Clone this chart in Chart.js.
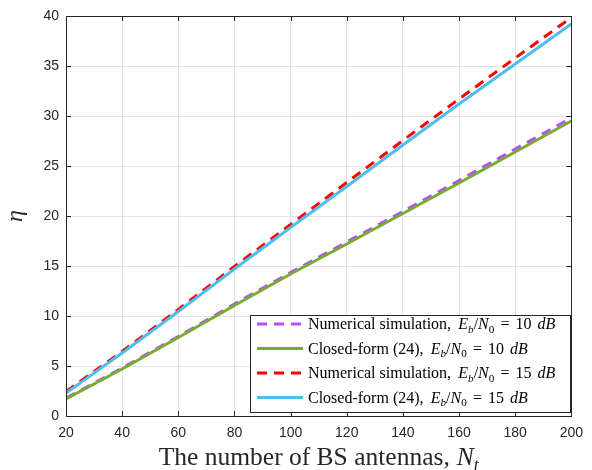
<!DOCTYPE html>
<html><head><meta charset="utf-8">
<script src="https://cdn.jsdelivr.net/npm/chart.js@4.4.1/dist/chart.umd.min.js"></script>
<style>html,body{margin:0;padding:0;background:#fff}</style>
</head><body>
<canvas id="c" width="592" height="470"></canvas>
<script>
// ---- data ----
const antennas  = [20, 40, 60, 80, 100, 120, 140, 160, 180, 200];
const simu10    = [1.8, 4.8, 7.95, 11.2, 14.35, 17.4, 20.45, 23.55, 26.7, 29.8];
const closed10  = [1.7, 4.7, 7.85, 11.05, 14.2, 17.2, 20.25, 23.3, 26.4, 29.5];
const simu15    = [2.45, 6.45, 10.65, 14.95, 19.15, 23.35, 27.55, 31.7, 35.8, 39.85];
const closed15  = [2.3, 6.3, 10.45, 14.7, 18.85, 22.95, 27.1, 31.2, 35.2, 39.2];
const seriesLabels = [
  "Numerical simulation, $E_b/N_0 = 10 dB$",
  "Closed-form (24), $E_b/N_0 = 10 dB$",
  "Numerical simulation, $E_b/N_0 = 15 dB$",
  "Closed-form (24), $E_b/N_0 = 15 dB$"
];
const xTickValues = [20, 40, 60, 80, 100, 120, 140, 160, 180, 200];
const yTickValues = [0, 5, 10, 15, 20, 25, 30, 35, 40];
const xTitle = "The number of BS antennas, $N_t$";
const yTitle = "$η$";

// ---- styling ----
const colors = ['#B84DFF', '#77AC30', '#FF0000', '#4DBEEE'];
const dashes = [[10, 7], [], [10, 7], []];
const axisColor = '#262626';
const SERIF = '"Liberation Serif", "Times New Roman", serif';

function pts(ys) { return antennas.map((x, i) => ({x: x, y: ys[i]})); }
const seriesData = [simu10, closed10, simu15, closed15];

// rich text parser: $...$ math, letters italic, _x subscript
function parseRich(str, preSp) {
  const segs = [];
  let math = false;
  for (let i = 0; i < str.length; i++) {
    const ch = str[i];
    if (ch === '$') { math = !math; continue; }
    if (ch === ' ' && (math || str[i + 1] === '$')) { segs.push({sp: math ? 0.38 : preSp}); continue; }
    if (math && ch === '_') {
      const s = str[++i];
      segs.push({t: s, it: /[A-Za-zα-ω]/.test(s), sub: true});
      continue;
    }
    segs.push({t: ch, it: math && /[A-Za-zα-ω]/.test(ch), sub: false});
  }
  return segs;
}
function segW(ctx, s, size) {
  if (s.sp) return s.sp * size;
  const fs = s.sub ? size * 0.7 : size;
  ctx.font = (s.it ? 'italic ' : '') + fs + 'px ' + SERIF;
  return ctx.measureText(s.t).width;
}
function richWidth(ctx, segs, size) {
  return segs.reduce((w, s) => w + segW(ctx, s, size), 0);
}
function drawRich(ctx, segs, x, y, size) {
  ctx.textBaseline = 'alphabetic';
  ctx.textAlign = 'left';
  segs.forEach(s => {
    const w = segW(ctx, s, size);
    if (!s.sp) ctx.fillText(s.t, x, s.sub ? y + size * 0.22 : y);
    x += w;
  });
}

const framePlugin = {
  id: 'frame',
  afterDraw(chart) {
    const ctx = chart.ctx;
    const a = chart.chartArea;
    const xs = chart.scales.x, ys = chart.scales.y;
    ctx.save();
    // box
    ctx.strokeStyle = axisColor;
    ctx.lineWidth = 1;
    ctx.setLineDash([]);
    ctx.strokeRect(Math.round(a.left) + 0.5, Math.round(a.top) + 0.5,
                   Math.round(a.right - a.left), Math.round(a.bottom - a.top));
    // inner ticks
    ctx.beginPath();
    xTickValues.forEach(v => {
      const px = Math.round(xs.getPixelForValue(v)) + 0.5;
      ctx.moveTo(px, a.bottom); ctx.lineTo(px, a.bottom - 5);
      ctx.moveTo(px, a.top); ctx.lineTo(px, a.top + 5);
    });
    yTickValues.forEach(v => {
      const py = Math.round(ys.getPixelForValue(v)) + 0.5;
      ctx.moveTo(a.left, py); ctx.lineTo(a.left + 5, py);
      ctx.moveTo(a.right, py); ctx.lineTo(a.right - 5, py);
    });
    ctx.stroke();

    // legend
    const lx = 250, ly = 315, lw = Math.round(a.right) - 250 - 1, lh = 97;
    ctx.fillStyle = '#fff';
    ctx.fillRect(lx, ly, lw, lh);
    ctx.strokeStyle = axisColor;
    ctx.strokeRect(lx + 0.5, ly + 0.5, lw, lh);
    const rowY = [324, 348.5, 373, 397.5];
    chart.data.datasets.forEach((ds, i) => {
      const y = rowY[i];
      ctx.strokeStyle = ds.borderColor;
      ctx.lineWidth = 3;
      ctx.setLineDash(ds.borderDash || []);
      ctx.beginPath();
      ctx.moveTo(257, y); ctx.lineTo(303, y);
      ctx.stroke();
      ctx.setLineDash([]);
      ctx.fillStyle = '#000';
      drawRich(ctx, parseRich(ds.label, 0.45), 308, y + 5, 16);
    });

    // x title
    ctx.fillStyle = '#262626';
    const xs2 = parseRich(xTitle, 0.27);
    const w = richWidth(ctx, xs2, 25.5);
    drawRich(ctx, xs2, (a.left + a.right) / 2 - w / 2, 465, 25.5);

    // y title
    ctx.translate(22, (a.top + a.bottom) / 2);
    ctx.rotate(-Math.PI / 2);
    const ys2 = parseRich(yTitle, 0.27);
    const w2 = richWidth(ctx, ys2, 24);
    drawRich(ctx, ys2, -w2 / 2, 0, 24);
    ctx.restore();
  }
};

new Chart(document.getElementById('c'), {
  type: 'line',
  data: {
    datasets: seriesLabels.map((lab, i) => ({
      label: lab,
      data: pts(seriesData[i]),
      borderColor: colors[i],
      backgroundColor: colors[i],
      borderDash: dashes[i],
      borderWidth: 3,
      pointRadius: 0,
      fill: false,
      tension: 0,
      order: 4 - i
    }))
  },
  options: {
    responsive: false,
    animation: false,
    devicePixelRatio: 1,
    layout: {padding: {left: 0, right: 20, top: 16, bottom: 0}},
    plugins: {legend: {display: false}, tooltip: {enabled: false}},
    scales: {
      x: {
        type: 'linear', min: 20, max: 200,
        afterBuildTicks: s => { s.ticks = xTickValues.map(v => ({value: v})); },
        afterFit: s => { s.height = 54; },
        grid: {color: '#e3e3e3', drawTicks: false},
        border: {display: false},
        ticks: {color: axisColor, padding: 9, font: {family: '"Liberation Sans", Arial, sans-serif', size: 14}}
      },
      y: {
        type: 'linear', min: 0, max: 40,
        afterBuildTicks: s => { s.ticks = yTickValues.map(v => ({value: v})); },
        afterFit: s => { s.width = 66; },
        grid: {color: '#e3e3e3', drawTicks: false},
        border: {display: false},
        ticks: {color: axisColor, padding: 7, font: {family: '"Liberation Sans", Arial, sans-serif', size: 14}}
      }
    }
  },
  plugins: [framePlugin]
});
</script>
</body></html>
